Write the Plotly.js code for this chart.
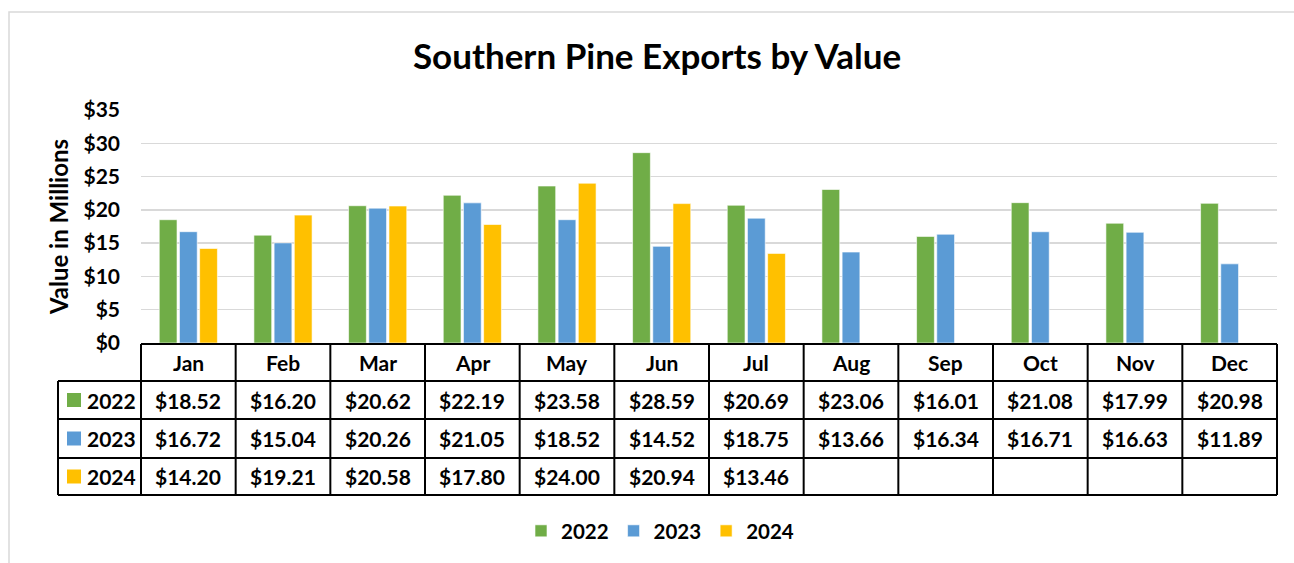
<!DOCTYPE html>
<html><head><meta charset="utf-8">
<script src="https://cdn.plot.ly/plotly-3.0.1.min.js"></script>
<style>html,body{margin:0;padding:0;background:#fff}#chart{width:1294px;height:563px}</style>
</head><body><div id="chart"></div>
<script>
const months = ['Jan','Feb','Mar','Apr','May','Jun','Jul','Aug','Sep','Oct','Nov','Dec'];
const seriesNames = ['2022','2023','2024'];
const v2022 = [18.52,16.20,20.62,22.19,23.58,28.59,20.69,23.06,16.01,21.08,17.99,20.98];
const v2023 = [16.72,15.04,20.26,21.05,18.52,14.52,18.75,13.66,16.34,16.71,16.63,11.89];
const v2024 = [14.20,19.21,20.58,17.80,24.00,20.94,13.46,null,null,null,null,null];
const seriesColors = ['#70AD47','#5B9BD5','#FFC000'];
const yTicks = [0,5,10,15,20,25,30,35];
const yTickText = ['$0','$5','$10','$15','$20','$25','$30','$35'];

const allValues = [v2022, v2023, v2024];
const W = 1294, H = 563;
const M = {l:141, r:17, t:110, b:220};
const plotW = W - M.l - M.r, plotH = H - M.t - M.b;
const px = xp => (xp - M.l) / plotW;
const py = yp => (H - M.b - yp) / plotH;
const FONT = 'Lato, "Open Sans", sans-serif';

const traces = seriesNames.map((n, s) => ({
  type: 'bar', name: n, x: months, y: allValues[s],
  marker: {color: seriesColors[s], line: {color: 'rgba(255,255,255,0.6)', width: 1}},
  hoverinfo: 'skip'
}));

const rowEdges = [344, 381, 419, 458, 495];
const legLeft = 58;
const shapes = [];
const annotations = [];
const lineStyle = {color: '#000', width: 2};

// outer chart border
shapes.push({type:'rect', xref:'paper', yref:'paper', x0:px(9), x1:px(1310), y0:py(12), y1:py(580),
  line:{color:'#D9D9D9', width:1.5}, fillcolor:'rgba(0,0,0,0)', layer:'below'});

// table horizontal lines
shapes.push({type:'line', xref:'paper', yref:'paper', x0:0, x1:1, y0:py(rowEdges[0]), y1:py(rowEdges[0]), line:lineStyle});
for (let r = 1; r < rowEdges.length; r++) {
  shapes.push({type:'line', xref:'paper', yref:'paper', x0:px(legLeft), x1:1, y0:py(rowEdges[r]), y1:py(rowEdges[r]), line:lineStyle});
}
// vertical lines
shapes.push({type:'line', xref:'paper', yref:'paper', x0:px(legLeft), x1:px(legLeft), y0:py(rowEdges[1]), y1:py(rowEdges[4]), line:lineStyle});
for (let i = 0; i <= months.length; i++) {
  const xx = i / months.length;
  shapes.push({type:'line', xref:'paper', yref:'paper', x0:xx, x1:xx, y0:py(rowEdges[0]), y1:py(rowEdges[4]), line:lineStyle});
}

const cellFont = {family: FONT, size: 21, color: '#000', weight: 700};
// header months
months.forEach((m, i) => {
  annotations.push({xref:'paper', yref:'paper', x:(i+0.5)/months.length, y:py((rowEdges[0]+rowEdges[1])/2),
    text:m, showarrow:false, font:cellFont, xanchor:'center', yanchor:'middle'});
});
// data rows
seriesNames.forEach((n, s) => {
  const yc = (rowEdges[s+1] + rowEdges[s+2]) / 2;
  shapes.push({type:'rect', xref:'paper', yref:'paper', x0:px(67), x1:px(81), y0:py(yc-7), y1:py(yc+7),
    line:{width:0}, fillcolor:seriesColors[s]});
  annotations.push({xref:'paper', yref:'paper', x:px(85), y:py(yc), text:n, showarrow:false,
    font:cellFont, xanchor:'left', yanchor:'middle'});
  allValues[s].forEach((v, i) => {
    if (v === null) return;
    annotations.push({xref:'paper', yref:'paper', x:(i+0.5)/months.length, y:py(yc),
      text:'$' + v.toFixed(2), showarrow:false, font:cellFont, xanchor:'center', yanchor:'middle'});
  });
});

const layout = {
  width: W, height: H,
  margin: M,
  paper_bgcolor: '#fff', plot_bgcolor: '#fff',
  font: {family: FONT, color: '#000'},
  title: {text: 'Southern Pine Exports by Value', font: {family: FONT, size: 35, weight: 700, color: '#000'},
    xref: 'container', x: 657/W, xanchor: 'center', yref: 'container', y: 1 - 57/H, yanchor: 'middle'},
  barmode: 'group', bargap: 0.36, bargroupgap: 0.12,
  xaxis: {type: 'category', range: [-0.5, 11.5], showticklabels: false, showgrid: false, zeroline: false, showline: false, ticks: '', fixedrange: true},
  yaxis: {range: [0, 35], tickmode: 'array', tickvals: yTicks, ticktext: yTickText, tickfont: {family: FONT, size: 21, weight: 700, color: '#000'},
    gridcolor: '#D9D9D9', gridwidth: 1.3, zeroline: false, showline: false, ticks: '', ticklabelstandoff: 20,
    title: {text: 'Value in Millions', font: {family: FONT, size: 24, weight: 700, color: '#000'}, standoff: 8}, fixedrange: true},
  showlegend: true,
  legend: {orientation: 'h', xref: 'container', x: 660/W, xanchor: 'center', yref: 'container', y: 1 - 531/H, yanchor: 'middle',
    font: {family: FONT, size: 20.5, weight: 700, color: '#000'}, itemclick: false, itemdoubleclick: false},
  shapes: shapes,
  annotations: annotations
};

Plotly.newPlot('chart', traces, layout, {displayModeBar: false, staticPlot: true});
</script>
</body></html>
